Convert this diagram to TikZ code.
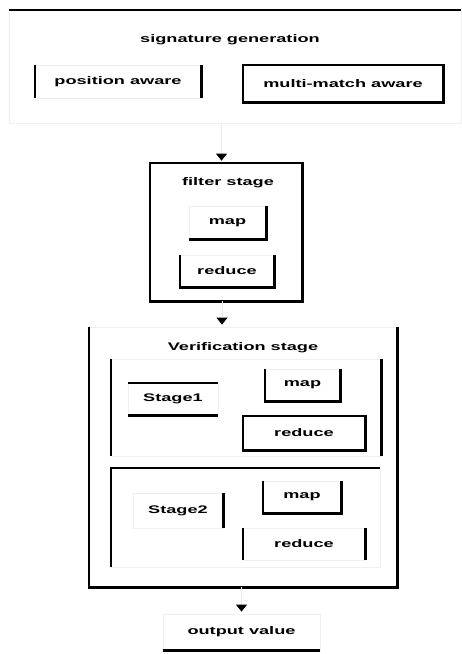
\documentclass[tikz,border=0pt]{standalone}
\usepackage{fontspec}
\setmainfont{Liberation Sans}[FakeStretch=1.65]
\usetikzlibrary{arrows.meta}
\tikzset{
  box/.style={draw=black!6, line width=0.8pt, rectangle, inner sep=0pt, font=\fontsize{11}{13}\selectfont\bfseries},
  lbl/.style={inner sep=0pt, font=\fontsize{11}{13}\selectfont\bfseries},
  side/.style={draw=black, line width=2.2pt},
  flow/.style={draw=black!8, line width=0.8pt, -{Triangle[width=11pt,length=7pt,color=black,fill=black]}}
}
\begin{document}
\begin{tikzpicture}[x=1pt,y=-1pt]
\useasboundingbox (0,0) rectangle (462,654);
% signature generation
\node[box, minimum width=452pt, minimum height=113pt] (sig) at (235,66.5) {};
\node[lbl] (sigt) at (230,40) {signature generation};
\node[box, minimum width=166pt, minimum height=33pt] (pos) at (118,81.5) {position aware};
\node[box, minimum width=200pt, minimum height=37pt] (mm) at (343,83.5) {multi-match aware};
\draw[side] (sig.north west) -- (sig.north east);
\draw[side] (pos.north west) -- (pos.south west);
\draw[side] (pos.north east) -- (pos.south east);
\draw[side] (mm.north west) rectangle (mm.south east);
% filter stage
\node[box, minimum width=152pt, minimum height=138pt] (filter) at (226,232) {};
\node[lbl] (filtert) at (228,183) {filter stage};
\node[box, minimum width=77pt, minimum height=33pt] (fmap) at (227.5,222.5) {map};
\node[box, minimum width=94pt, minimum height=32pt] (fred) at (227,271) {reduce};
\draw[side] (filter.north west) rectangle (filter.south east);
\draw[side] (fmap.north east) -- (fmap.south east) -- (fmap.south west);
\draw[side] (fred.north west) -- (fred.south west) -- (fred.south east) -- (fred.north east);
% verification stage
\node[box, minimum width=308pt, minimum height=260pt] (verif) at (243,457) {};
\node[lbl] (veriftt) at (243,348) {Verification stage};
\draw[side] (verif.north west) -- (verif.south west) -- (verif.south east) -- (verif.north east);
% stage 1
\node[box, minimum width=270pt, minimum height=97pt] (s1box) at (246,407.5) {};
\draw[side] (s1box.north west) -- (s1box.south west);
\draw[side] (s1box.north east) -- (s1box.south east);
\node[box, minimum width=90pt, minimum height=32pt] (s1) at (173,399) {Stage1};
\draw[side] (s1.north west) -- (s1.north east);
\draw[side] (s1.south west) -- (s1.south east);
\node[box, minimum width=75pt, minimum height=32pt] (s1map) at (302.5,385) {map};
\draw[side] (s1map.north west) -- (s1map.south west) -- (s1map.south east) -- (s1map.north east);
\node[box, minimum width=122pt, minimum height=34pt] (s1red) at (304,433) {reduce};
\draw[side] (s1red.north west) rectangle (s1red.south east);
% stage 2
\node[box, minimum width=269pt, minimum height=99pt] (s2box) at (245.5,517.5) {};
\draw[side] (s2box.south west) -- (s2box.north west) -- (s2box.north east);
\node[box, minimum width=90pt, minimum height=35pt] (s2) at (178,510.5) {Stage2};
\draw[side] (s2.north east) -- (s2.south east);
\node[box, minimum width=78pt, minimum height=32pt] (s2map) at (302,497) {map};
\draw[side] (s2map.north west) -- (s2map.south west) -- (s2map.south east) -- (s2map.north east);
\node[box, minimum width=122pt, minimum height=32pt] (s2red) at (304,544) {reduce};
\draw[side] (s2red.north west) -- (s2red.south west);
\draw[side] (s2red.north east) -- (s2red.south east);
% output
\node[box, minimum width=157pt, minimum height=36pt] (out) at (241.5,632) {output value};
\draw[side] (out.south west) -- (out.south east);
% connectors
\coordinate (a1) at ([xshift=-4.5pt]filter.north);
\coordinate (a2) at ([xshift=-4pt]filter.south);
\draw[flow] (a1 |- sig.south) -- ([yshift=2pt]a1);
\draw[flow] (a2) -- ([yshift=2pt]a2 |- verif.north);
\draw[flow] (out.north |- verif.south) -- ([yshift=2pt]out.north);
\end{tikzpicture}
\end{document}
